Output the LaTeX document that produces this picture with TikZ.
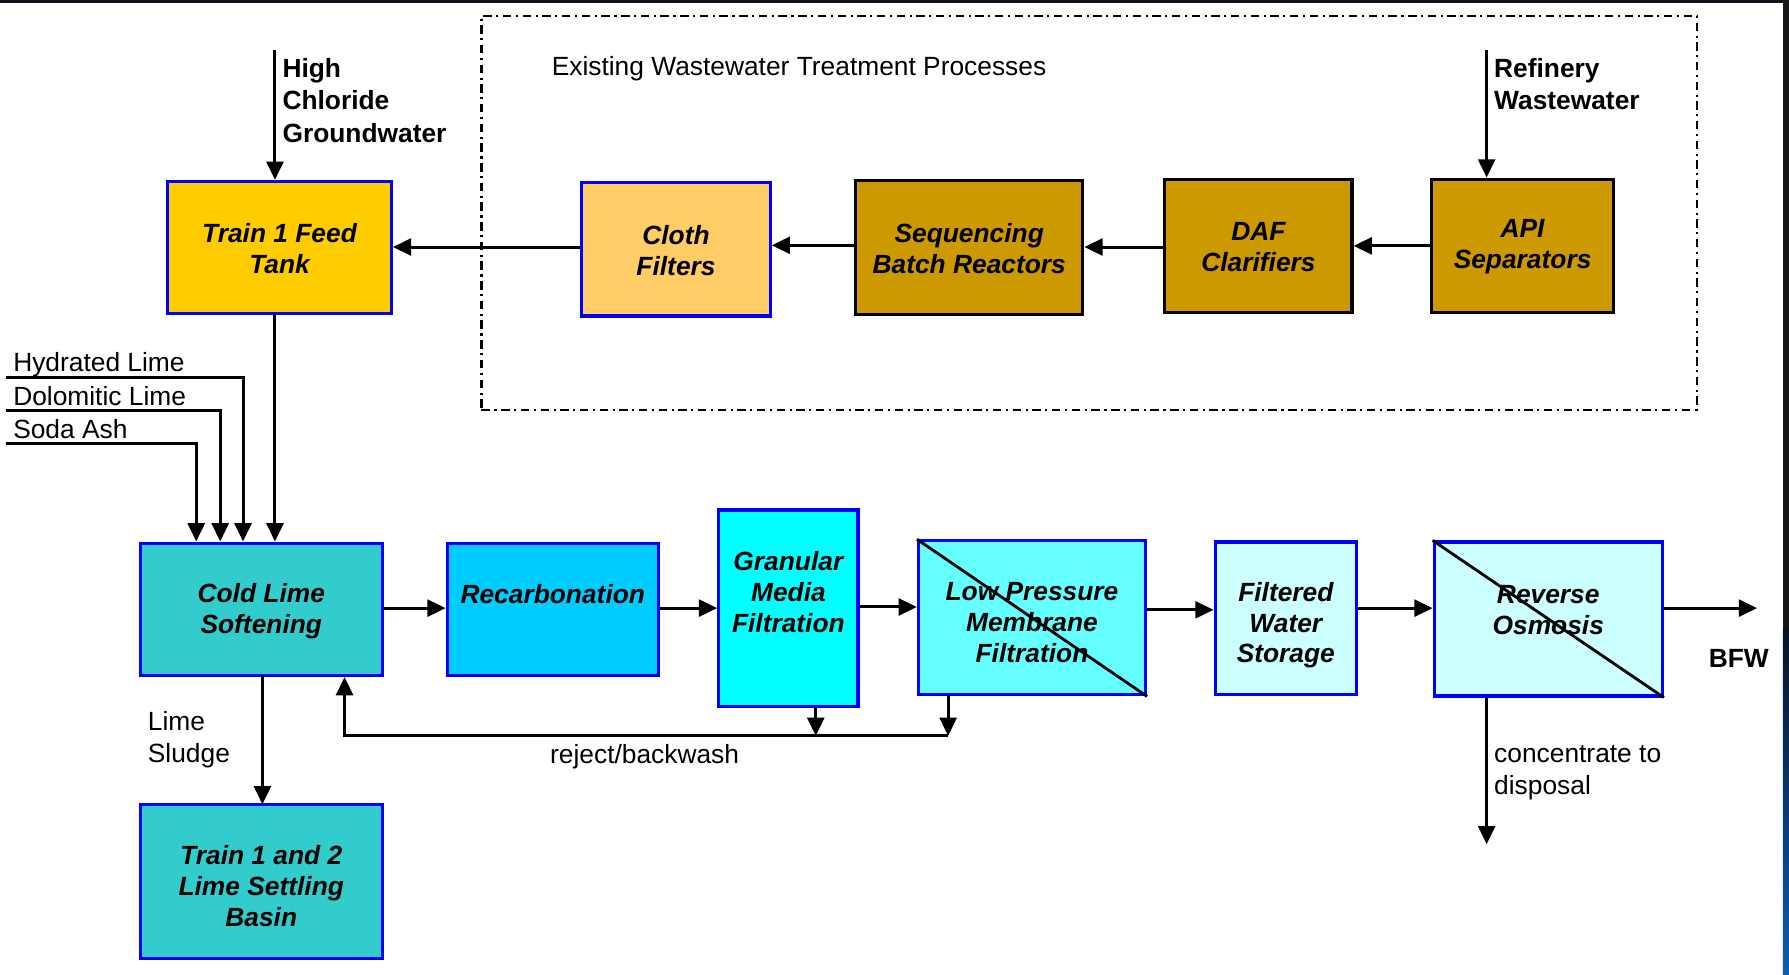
\documentclass[tikz,border=0pt]{standalone}
\usepackage{fontspec}
\setmainfont{Liberation Sans}
\usetikzlibrary{arrows.meta,fit,calc}
\definecolor{feedc}{HTML}{FFCC00}
\definecolor{clothc}{HTML}{FFCC66}
\definecolor{brownc}{HTML}{CC9900}
\definecolor{tealc}{HTML}{33CCCC}
\definecolor{recc}{HTML}{00CCFF}
\definecolor{cyanc}{HTML}{00FFFF}
\definecolor{lpc}{HTML}{66FFFF}
\definecolor{palec}{HTML}{CCFFFF}
\definecolor{bordc}{HTML}{0000FF}
\definecolor{darkc}{HTML}{0D121C}
\definecolor{stripc}{HTML}{151618}
\definecolor{navyc}{HTML}{061428}
\definecolor{bluec}{HTML}{0E5DAE}
\begin{document}
\begin{tikzpicture}[x=0.01141cm,y=-0.01141cm,
  pbox/.style={draw=bordc,line width=0.9pt,inner sep=0pt},
  bbox/.style={draw=black,line width=0.9pt,inner sep=0pt,fill=brownc},
  btxt/.style={font=\bfseries\itshape\fontsize{7.5pt}{8.8pt}\selectfont,align=center,inner sep=0pt},
  lbl/.style={font=\fontsize{7.5pt}{9.2pt}\selectfont,align=left,inner sep=0pt},
  blbl/.style={font=\bfseries\fontsize{7.5pt}{9.2pt}\selectfont,align=left,inner sep=0pt},
  conn/.style={line width=0.85pt,draw=black},
  arr/.style={conn,-{Triangle[length=5.2pt,width=4.8pt]}}]
\useasboundingbox (0,0) rectangle (1568,854);
% frame strips
\fill[darkc] (0,0) rectangle (1568,2.6);
\fill[stripc] (1562.7,0) rectangle (1568,552);
\shade[top color=navyc,bottom color=bluec] (1562.7,552) rectangle (1568,854);

% existing processes frame
\node[draw,line width=0.6pt,dash pattern=on 2.4pt off 1.3pt on 0.6pt off 1.3pt,inner sep=0pt,fit={(422,14) (1487,359)}] (frame) {};
\node[lbl,anchor=west] (exist) at (483,60) {Existing Wastewater Treatment Processes};

% top row
\node[pbox,fill=feedc,fit={(147,159) (343,275)}] (feed) {};
\node[btxt] (tfeed) at ($(feed.center)+(0,1)$) {Train 1 Feed\\Tank};
\node[pbox,fill=clothc,fit={(510,160) (675,277)}] (cloth) {};
\node[btxt] (tcloth) at ($(cloth.center)+(0,1)$) {Cloth\\Filters};
\node[bbox,fit={(750,158) (949,276)}] (sbr) {};
\node[btxt] (tsbr) at ($(sbr.center)+(0,1)$) {Sequencing\\Batch Reactors};
\node[bbox,fit={(1021,157) (1185,274)}] (daf) {};
\node[btxt] (tdaf) at ($(daf.center)+(0,1)$) {DAF\\Clarifiers};
\node[bbox,fit={(1255,157) (1414,274)}] (api) {};
\node[btxt] (tapi) at ($(api.center)+(0,1)$) {API\\Separators};

% inputs
\coordinate (hc) at (241,44);
\node[blbl,anchor=west] (thc) at (247,88) {High\\Chloride\\Groundwater};
\coordinate (rw) at (1303,44);
\node[blbl,anchor=west] (trw) at (1309,73.5) {Refinery\\Wastewater};

% bottom row
\node[pbox,fill=tealc,fit={(123,476) (335,592)}] (cls) {};
\node[btxt] (tcls) at ($(cls.center)+(0,2)$) {Cold Lime\\Softening};
\node[pbox,fill=recc,fit={(392,476) (577,592)}] (rec) {};
\node[btxt] (trec) at (484.5,521) {Recarbonation};
\node[pbox,fill=cyanc,fit={(630,447) (752,619)}] (gmf) {};
\node[btxt] (tgmf) at (691,519) {Granular\\Media\\Filtration};
\node[pbox,fill=lpc,fit={(805,474) (1004,609)}] (lpmf) {};
\node[btxt] (tlpmf) at (904.5,546) {Low Pressure\\Membrane\\Filtration};
\node[pbox,fill=palec,fit={(1065,475) (1189,609)}] (fws) {};
\node[btxt] (tfws) at (1127,548) {Filtered\\Water\\Storage};
\node[pbox,fill=palec,fit={(1257,475) (1457,610)}] (ro) {};
\node[btxt] (tro) at (1357,535) {Reverse\\Osmosis};
\draw[line width=0.8pt] (lpmf.north west) -- (lpmf.south east);
\draw[line width=0.8pt] (ro.north west) -- (ro.south east);
\node[pbox,fill=tealc,fit={(123,705) (335,840)}] (lsb) {};
\node[btxt] (tlsb) at ($(lsb.center)+(0,4)$) {Train 1 and 2\\Lime Settling\\Basin};

% chemical feeds
\coordinate (hl) at (5,331);
\coordinate (hlx) at (213,331);
\coordinate (dl) at (5,360);
\coordinate (dlx) at (193,360);
\coordinate (sa) at (5,389);
\coordinate (sax) at (172,389);
\node[lbl,anchor=base west] (thl) at (11,326) {Hydrated Lime};
\node[lbl,anchor=base west] (tdl) at (11,355) {Dolomitic Lime};
\node[lbl,anchor=base west] (tsa) at (11,384) {Soda Ash};
\draw[arr] (hl) -- (hlx) -- (hlx |- cls.north);
\draw[arr] (dl) -- (dlx) -- (dlx |- cls.north);
\draw[arr] (sa) -- (sax) -- (sax |- cls.north);

% top connectors
\draw[arr] (hc) -- (hc |- feed.north);
\draw[arr] (rw) -- (rw |- api.north);
\draw[arr] (api.west) -- (api.west -| daf.east);
\draw[arr] ($(daf.west)+(0,1)$) -- ($(daf.west -| sbr.east)+(0,1)$);
\draw[arr] ($(sbr.west)+(0,-2)$) -- ($(sbr.west -| cloth.east)+(0,-2)$);
\draw[arr] ($(cloth.west)+(0,-2)$) -- ($(cloth.west -| feed.east)+(0,-2)$);
\draw[arr] (hc |- feed.south) -- (hc |- cls.north);

% bottom connectors
\draw[arr] ($(cls.east)+(0,-1)$) -- ($(cls.east -| rec.west)+(0,-1)$);
\draw[arr] ($(rec.east)+(0,-1)$) -- ($(rec.east -| gmf.west)+(0,-1)$);
\draw[arr] ($(gmf.east)+(0,-1)$) -- ($(gmf.east -| lpmf.west)+(0,-1)$);
\draw[arr] ($(lpmf.east)+(0,-7)$) -- ($(lpmf.east -| fws.west)+(0,-7)$);
\draw[arr] ($(fws.east)+(0,-9)$) -- ($(fws.east -| ro.west)+(0,-9)$);
\coordinate (bfwend) at (1540,533);
\draw[arr] (ro.east |- bfwend) -- (bfwend);
\node[blbl,anchor=center] (tbfw) at (1524,577) {BFW};
\coordinate (conc) at (1303,740);
\draw[arr] (conc |- ro.south) -- (conc);
\node[lbl,anchor=west] (tconc) at (1309,677.5) {concentrate to\\disposal};
\draw[arr] (230,592) -- (230,705);
\node[lbl,anchor=west] (tls) at (129,648.5) {Lime\\Sludge};

% reject / backwash loop
\coordinate (rb1) at (831,645);
\coordinate (rb2) at (715,645);
\coordinate (rb3) at (302,645);
\draw[arr] (rb1 |- lpmf.south) -- (rb1);
\draw[arr] (rb2 |- gmf.south) -- (rb2);
\draw[arr] (rb1) -- (rb3) -- (rb3 |- cls.south);
\node[lbl,anchor=center] (trb) at (565,663) {reject/backwash};
\end{tikzpicture}
\end{document}
